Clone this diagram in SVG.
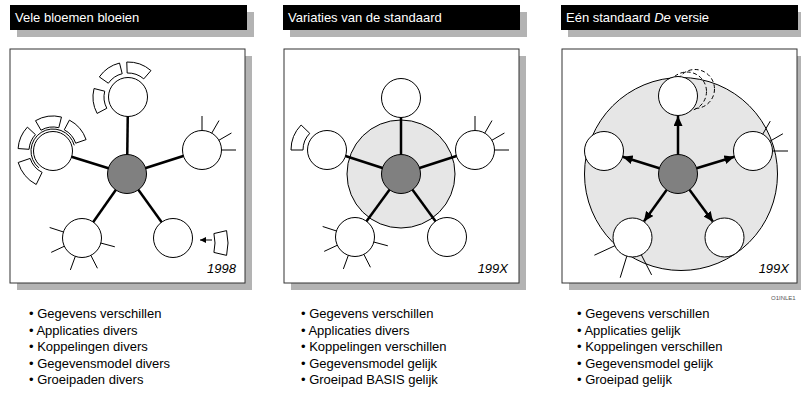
<svg xmlns="http://www.w3.org/2000/svg" width="801" height="393" viewBox="0 0 801 393">
<defs>
<style>
.shadow{fill:#b3b3b3}
.bar{fill:#000}
.box{fill:#fff;stroke:#333;stroke-width:1}
.ttl{fill:#fff;font-family:"Liberation Sans",Arial,sans-serif;font-size:13px}
.sat{fill:#fff;stroke:#000;stroke-width:1}
.hub{fill:#808080;stroke:#000;stroke-width:1}
.big{fill:#e6e6e6;stroke:#000;stroke-width:1}
.conn{stroke:#000;stroke-width:2.5;fill:none}
.tick{stroke:#000;stroke-width:1;fill:none}
.petal{fill:#fff;stroke:#000;stroke-width:1}
.dash{fill:none;stroke:#000;stroke-width:1;stroke-dasharray:4 2.5}
.yr{font-family:"Liberation Sans",Arial,sans-serif;font-size:13px;font-style:italic;fill:#000;text-anchor:end}
.bul{font-family:"Liberation Sans",Arial,sans-serif;font-size:13px;fill:#000}
</style>
<marker id="ah" markerUnits="userSpaceOnUse" markerWidth="11" markerHeight="9" refX="10" refY="4.5" orient="auto">
<path d="M0,0 L10,4.5 L0,9 Z" fill="#000"/>
</marker>
<marker id="ahs" markerUnits="userSpaceOnUse" markerWidth="7" markerHeight="6" refX="6" refY="3" orient="auto">
<path d="M0,0 L6,3 L0,6 Z" fill="#000"/>
</marker>
</defs>
<rect width="801" height="393" fill="#fff"/>

<!-- Panel 1 -->
<g id="panel1">
<rect class="shadow" x="17" y="12" width="237" height="25"/>
<rect class="bar" x="10" y="5" width="237" height="25"/>
<text class="ttl" x="15" y="22">Vele bloemen bloeien</text>
<rect class="shadow" x="17" y="56" width="235" height="234"/>
<rect class="box" x="10" y="49" width="235" height="234"/>
</g>
<g id="connectors1">
<line class="conn" x1="127" y1="174" x2="128" y2="97"/>
<line class="conn" x1="127" y1="174" x2="53" y2="151"/>
<line class="conn" x1="127" y1="174" x2="202" y2="150"/>
<line class="conn" x1="127" y1="174" x2="82" y2="238"/>
<line class="conn" x1="127" y1="174" x2="173" y2="238"/>
<line class="tick" x1="212" y1="240" x2="200" y2="240" marker-end="url(#ahs)"/>
</g>
<g id="p1-hub"><circle class="hub" cx="127" cy="174" r="19.5"/></g>
<g id="p1-top">
<circle class="sat" cx="128" cy="97" r="19.5"/>
<path class="petal" d="M97.10,113.43 A35,35 0 0 1 94.04,88.53 L104.71,91.19 A24,24 0 0 0 106.81,108.27 Z"/>
<path class="petal" d="M99.33,76.92 A35,35 0 0 1 119.53,63.04 L122.19,73.71 A24,24 0 0 0 108.34,83.23 Z"/>
<path class="petal" d="M126.78,62.02 A35,35 0 0 1 150.96,70.59 L143.75,78.89 A24,24 0 0 0 127.16,73.01 Z"/>
</g>
<g id="p1-left">
<circle class="sat" cx="53" cy="151" r="19.5"/>
<path class="tick" d="M38.86,167.85 A22,22 0 1 1 74.25,145.31"/>
<path class="petal" d="M18.08,148.56 A35,35 0 0 1 27.40,127.13 L35.45,134.63 A24,24 0 0 0 29.06,149.32 Z"/>
<path class="petal" d="M35.5,120.69 A35,35 0 0 1 61.47,117.04 L58.81,127.71 A24,24 0 0 0 41,130.22 Z"/>
<path class="petal" d="M69.43,120.10 A35,35 0 0 1 86.09,139.60 L75.69,143.19 A24,24 0 0 0 64.27,129.81 Z"/>
<path class="petal" d="M36.2,184.5 A37,37 0 0 1 18.2,162.5 L30.17,158.42 A24,24 0 0 0 42.10,172.38 Z"/>
</g>
<g id="p1-right">
<circle class="sat" cx="202" cy="150" r="19.5"/>
<line class="tick" x1="202" y1="130.5" x2="202" y2="116"/>
<line class="tick" x1="211.75" y1="133.11" x2="219" y2="120.56"/>
<line class="tick" x1="218.89" y1="140.25" x2="231.44" y2="133"/>
<line class="tick" x1="221.5" y1="150" x2="236" y2="150"/>
</g>
<g id="p1-lowleft">
<circle class="sat" cx="82" cy="238" r="19.5"/>
<line class="tick" x1="100.84" y1="243.05" x2="114.84" y2="246.80"/>
<line class="tick" x1="90.85" y1="255.37" x2="97.44" y2="268.29"/>
<line class="tick" x1="75.33" y1="256.32" x2="70.37" y2="269.95"/>
<line class="tick" x1="64.33" y1="246.24" x2="51.19" y2="252.37"/>
<line class="tick" x1="63.45" y1="231.97" x2="49.66" y2="227.49"/>
</g>
<g id="p1-lowright">
<circle class="sat" cx="173" cy="238" r="19.5"/>
<path class="petal" d="M226.59,230.63 A55,55 0 0 1 226.59,255.37 L213.92,252.45 A42,42 0 0 0 213.92,233.55 Z"/>
</g>
<text class="yr" x="236" y="273">1998</text>

<!-- Panel 2 -->
<g id="panel2">
<rect class="shadow" x="290" y="12" width="237" height="25"/>
<rect class="bar" x="283" y="5" width="237" height="25"/>
<text class="ttl" x="288" y="22">Variaties van de standaard</text>
<rect class="shadow" x="291" y="56" width="235" height="234"/>
<rect class="box" x="284" y="49" width="235" height="234"/>
<circle class="big" cx="401" cy="174" r="54"/>
</g>
<g id="connectors2">
<line class="conn" x1="401" y1="174" x2="401" y2="98"/>
<line class="conn" x1="401" y1="174" x2="327" y2="150"/>
<line class="conn" x1="401" y1="174" x2="475" y2="150"/>
<line class="conn" x1="401" y1="174" x2="355" y2="237"/>
<line class="conn" x1="401" y1="174" x2="447" y2="237"/>
</g>
<g id="p2-hub"><circle class="hub" cx="401" cy="174" r="19.5"/></g>
<g id="p2-top"><circle class="sat" cx="401" cy="98" r="19.5"/></g>
<g id="p2-left">
<circle class="sat" cx="327" cy="150" r="19.5"/>
<path class="petal" d="M291,150 A36,36 0 0 1 301.10,124.99 L309.74,133.33 A24,24 0 0 0 303,150 Z"/>
</g>
<g id="p2-right">
<circle class="sat" cx="475" cy="150" r="19.5"/>
<line class="tick" x1="475" y1="130.5" x2="475" y2="116"/>
<line class="tick" x1="484.75" y1="133.11" x2="492" y2="120.56"/>
<line class="tick" x1="491.89" y1="140.25" x2="504.44" y2="133"/>
<line class="tick" x1="494.5" y1="150" x2="509" y2="150"/>
</g>
<g id="p2-lowleft">
<circle class="sat" cx="355" cy="237" r="19.5"/>
<line class="tick" x1="373.84" y1="242.05" x2="387.84" y2="245.80"/>
<line class="tick" x1="363.85" y1="254.37" x2="370.44" y2="267.29"/>
<line class="tick" x1="348.33" y1="255.32" x2="343.37" y2="268.95"/>
<line class="tick" x1="337.33" y1="245.24" x2="324.19" y2="251.37"/>
<line class="tick" x1="336.45" y1="230.97" x2="322.66" y2="226.49"/>
</g>
<g id="p2-lowright"><circle class="sat" cx="447" cy="237" r="19.5"/></g>
<text class="yr" x="508" y="273">199X</text>

<!-- Panel 3 -->
<g id="panel3">
<rect class="shadow" x="568" y="12" width="237" height="25"/>
<rect class="bar" x="561" y="5" width="237" height="25"/>
<text class="ttl" x="566" y="22">Eén standaard <tspan font-style="italic">De</tspan> versie</text>
<rect class="shadow" x="569" y="56" width="235" height="234"/>
<rect class="box" x="562" y="49" width="235" height="234"/>
<circle class="big" cx="681" cy="174" r="96.5"/>
</g>
<g id="connectors3">
<line class="conn" x1="678" y1="154.5" x2="678" y2="116" marker-end="url(#ah)"/>
<line class="conn" x1="659.4" y1="168.2" x2="622.6" y2="156.8" marker-end="url(#ah)"/>
<line class="conn" x1="696.6" y1="168.3" x2="734.4" y2="156.7" marker-end="url(#ah)"/>
<line class="conn" x1="666.6" y1="189.9" x2="643.9" y2="221.6" marker-end="url(#ah)"/>
<line class="conn" x1="689.5" y1="189.7" x2="713" y2="221.8" marker-end="url(#ah)"/>
</g>
<g id="p3-hub"><circle class="hub" cx="678" cy="174" r="19.5"/></g>
<g id="p3-top">
<circle class="dash" cx="695" cy="89" r="19.5"/>
<circle class="dash" cx="687" cy="91.5" r="19.5"/>
<circle class="sat" cx="678" cy="96" r="19.5"/>
</g>
<g id="p3-left"><circle class="sat" cx="604" cy="151" r="19.5"/></g>
<g id="p3-right">
<circle class="sat" cx="753" cy="151" r="19.5"/>
<line class="tick" x1="762.75" y1="134.11" x2="770.25" y2="121.12"/>
<line class="tick" x1="769.89" y1="141.25" x2="782.88" y2="133.75"/>
<line class="tick" x1="772.5" y1="151" x2="788" y2="151"/>
</g>
<g id="p3-lowleft">
<circle class="sat" cx="632.5" cy="237.5" r="19.5"/>
<line class="tick" x1="614.83" y1="245.74" x2="594.4" y2="255.2"/>
<line class="tick" x1="626.8" y1="256.15" x2="620.2" y2="277.7"/>
<line class="tick" x1="641.35" y1="254.87" x2="651.6" y2="274.9"/>
</g>
<g id="p3-lowright"><circle class="sat" cx="724.5" cy="237.5" r="19.5"/></g>
<text class="yr" x="789" y="273">199X</text>

<text x="771" y="300" font-family="Liberation Sans, Arial, sans-serif" font-size="6" fill="#555">O1INLE1</text>

<!-- Bullet lists -->
<g id="list1" class="bul">
<text x="29" y="318">• Gegevens verschillen</text>
<text x="29" y="334.5">• Applicaties divers</text>
<text x="29" y="351">• Koppelingen divers</text>
<text x="29" y="367.5">• Gegevensmodel divers</text>
<text x="29" y="384">• Groeipaden divers</text>
</g>
<g id="list2" class="bul">
<text x="301" y="318">• Gegevens verschillen</text>
<text x="301" y="334.5">• Applicaties divers</text>
<text x="301" y="351">• Koppelingen verschillen</text>
<text x="301" y="367.5">• Gegevensmodel gelijk</text>
<text x="301" y="384">• Groeipad BASIS gelijk</text>
</g>
<g id="list3" class="bul">
<text x="577" y="318">• Gegevens verschillen</text>
<text x="577" y="334.5">• Applicaties gelijk</text>
<text x="577" y="351">• Koppelingen verschillen</text>
<text x="577" y="367.5">• Gegevensmodel gelijk</text>
<text x="577" y="384">• Groeipad gelijk</text>
</g>
</svg>
